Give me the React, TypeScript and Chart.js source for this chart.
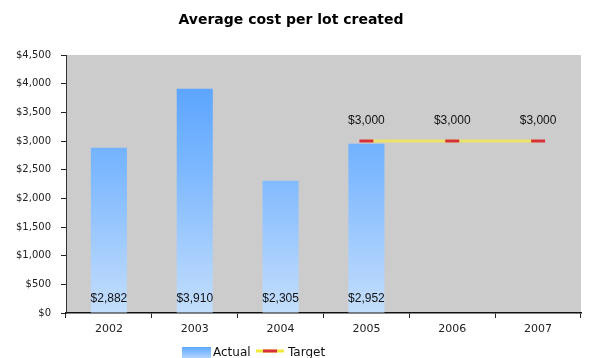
import React, { useEffect, useRef } from "react";
import { Chart, registerables } from "chart.js";

Chart.register(...registerables);

const title = "Average cost per lot created";
const categories = ["2002", "2003", "2004", "2005", "2006", "2007"];
const actualValues: (number | null)[] = [2882, 3910, 2305, 2952, null, null];
const targetValues: (number | null)[] = [null, null, null, 3000, 3000, 3000];
const yTicks = [0, 500, 1000, 1500, 2000, 2500, 3000, 3500, 4000, 4500];
const legendLabels = ["Actual", "Target"];

const money = (v: number) => "$" + v.toLocaleString("en-US");

export default function App() {
  const ref = useRef<HTMLCanvasElement | null>(null);
  useEffect(() => {
    document.body.style.margin = "0";
    const canvas = ref.current!;
    const bgPlugin = {
      id: "bg",
      beforeDraw(chart: any) {
        const { ctx, chartArea: a } = chart;
        ctx.save();
        ctx.fillStyle = "#cccccc";
        ctx.fillRect(a.left, a.top, a.right - a.left, a.bottom - a.top);
        ctx.restore();
      },
      afterDraw(chart: any) {
        const { ctx, chartArea: a } = chart;
        ctx.save();
        // title
        ctx.fillStyle = "#000";
        ctx.font = "bold 14px 'DejaVu Sans'";
        ctx.textAlign = "center";
        ctx.textBaseline = "middle";
        ctx.fillText(title, 291, 20);
        // data labels
        ctx.font = "12px 'Liberation Sans'";
        ctx.fillStyle = "#111";
        const m0 = chart.getDatasetMeta(0);
        m0.data.forEach((el: any, i: number) => {
          const v = actualValues[i];
          if (v == null) return;
          ctx.fillText(money(v), el.x, a.bottom - 14);
        });
        const m1 = chart.getDatasetMeta(1);
        m1.data.forEach((el: any, i: number) => {
          const v = targetValues[i];
          if (v == null) return;
          ctx.fillText(money(v), el.x, el.y - 20);
        });
        // legend
        const ly = 353;
        const g = ctx.createLinearGradient(0, ly - 6, 0, ly + 6);
        g.addColorStop(0, "#5ea8ff");
        g.addColorStop(1, "#b8d8ff");
        ctx.fillStyle = g;
        ctx.fillRect(182, ly - 6, 29, 12);
        ctx.fillStyle = "#111";
        ctx.font = "12px 'DejaVu Sans'";
        ctx.textAlign = "left";
        ctx.fillText(legendLabels[0], 213, ly);
        ctx.strokeStyle = "#f2ea3a";
        ctx.lineWidth = 3;
        ctx.beginPath();
        ctx.moveTo(256, ly - 2);
        ctx.lineTo(284, ly - 2);
        ctx.stroke();
        ctx.strokeStyle = "#d8303a";
        ctx.beginPath();
        ctx.moveTo(263, ly - 2);
        ctx.lineTo(277, ly - 2);
        ctx.stroke();
        ctx.fillStyle = "#111";
        ctx.fillText(legendLabels[1], 288, ly);
        ctx.restore();
      },
    };
    const chart = new Chart(canvas, {
      type: "bar",
      data: {
        labels: categories,
        datasets: [
          {
            type: "bar",
            label: legendLabels[0],
            data: actualValues,
            backgroundColor: (c: any) => {
              const a = c.chart.chartArea;
              if (!a) return "#7ab8ff";
              const g = c.chart.ctx.createLinearGradient(0, a.top, 0, a.bottom);
              g.addColorStop(0, "#4f9dff");
              g.addColorStop(0.45, "#7db8ff");
              g.addColorStop(1, "#c4defc");
              return g;
            },
            categoryPercentage: 0.84,
            barPercentage: 0.5,
            order: 2,
          },
          {
            type: "line",
            label: legendLabels[1],
            data: targetValues,
            borderColor: "#ebe36a",
            borderWidth: 3,
            pointStyle: "line",
            pointRadius: 7,
            pointBorderColor: "#d8303a",
            pointBorderWidth: 3,
            pointBackgroundColor: "#d8303a",
            order: 1,
          },
        ],
      },
      options: {
        animation: false,
        responsive: true,
        maintainAspectRatio: false,
        layout: { padding: { top: 55, right: 7, left: 0, bottom: 0 } },
        plugins: { legend: { display: false }, tooltip: { enabled: false }, title: { display: false } },
        scales: {
          x: {
            offset: true,
            grid: { display: true, drawOnChartArea: false, drawTicks: true, tickLength: 5, color: "#222", offset: true },
            border: { display: true, color: "#111", width: 1.5 },
            ticks: { color: "#222", font: { family: "DejaVu Sans", size: 11 }, padding: 5 },
            afterFit: (s: any) => { s.height = 45; },
          },
          y: {
            min: 0,
            max: 4500,
            afterBuildTicks: (s: any) => { s.ticks = yTicks.map((v) => ({ value: v })); },
            grid: { display: true, drawOnChartArea: false, drawTicks: true, tickLength: 5, color: "#222" },
            border: { display: true, color: "#333", width: 1 },
            ticks: { color: "#222", font: { family: "DejaVu Sans", size: 10 }, padding: 10, callback: (v: any) => money(Number(v)) },
            afterFit: (s: any) => { s.width = 66; },
          },
        },
      },
      plugins: [bgPlugin],
    } as any);
    return () => chart.destroy();
  }, []);
  return (
    <div style={{ position: "fixed", left: 0, top: 0, width: 591, height: 358, background: "#fff" }}>
      <canvas ref={ref} />
    </div>
  );
}
